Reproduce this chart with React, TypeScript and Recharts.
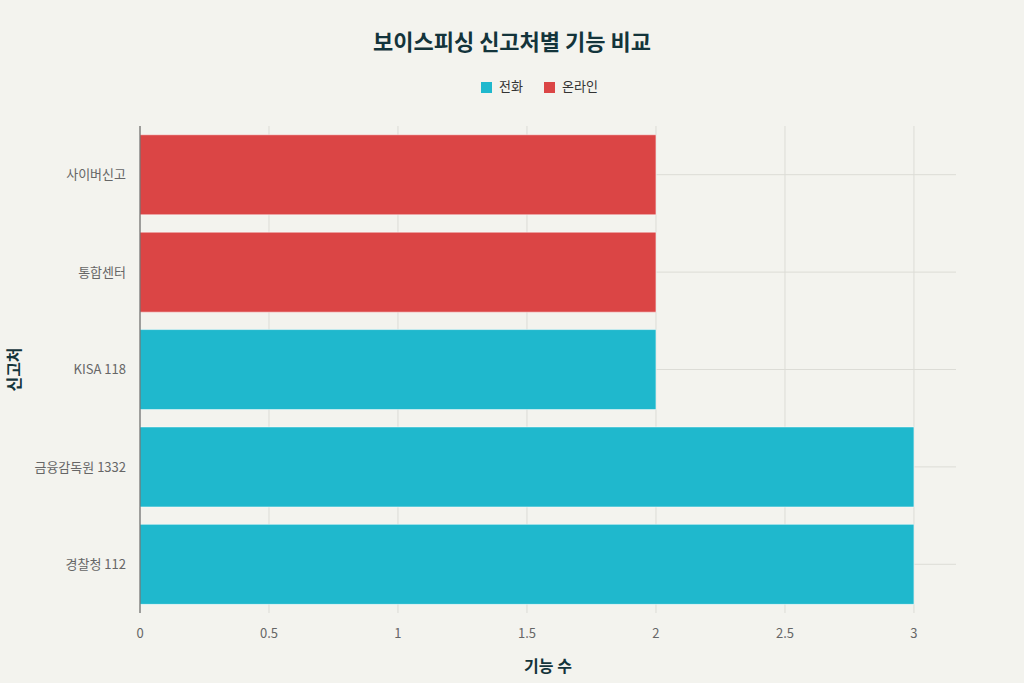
import { BarChart, Bar, XAxis, YAxis, CartesianGrid, Legend, Label } from 'recharts';

const categories = ['사이버신고', '통합센터', 'KISA 118', '금융감독원 1332', '경찰청 112'];
const phoneValues = [0, 0, 2, 3, 3];
const onlineValues = [2, 2, 0, 0, 0];
const xTicks = [0, 0.5, 1, 1.5, 2, 2.5, 3];
const X_MAX = 3.163;

const chartData = categories.map((name, i) => ({
  name,
  phone: phoneValues[i],
  online: onlineValues[i],
}));

const FONT = '"Noto Sans CJK KR", "Noto Sans", sans-serif';
const legendOrder = ['전화', '온라인'];

export default function App() {
  return (
    <div
      style={{
        position: 'absolute',
        left: 0,
        top: 0,
        width: 1024,
        height: 683,
        background: '#f3f3ee',
        fontFamily: FONT,
      }}
    >
      <div
        style={{
          position: 'absolute',
          top: 24,
          width: 1024,
          textAlign: 'center',
          fontSize: 22,
          fontWeight: 700,
          color: '#13343b',
        }}
      >
        보이스피싱 신고처별 기능 비교
      </div>
      <BarChart
        width={1024}
        height={683}
        data={chartData}
        layout="vertical"
        margin={{ top: 107, right: 68, bottom: 0, left: 20 }}
        barCategoryGap="9%"
        style={{ fontFamily: FONT }}
      >
        <CartesianGrid
          stroke="#dcdcd6"
          strokeWidth={1}
          horizontalCoordinatesGenerator={({ offset }) =>
            categories.map((_, i) => offset.top + (offset.height * (i + 0.5)) / categories.length)
          }
          verticalCoordinatesGenerator={({ offset }) =>
            xTicks.map((t) => offset.left + (offset.width * t) / X_MAX)
          }
        />
        <XAxis
          type="number"
          domain={[0, X_MAX]}
          ticks={xTicks}
          axisLine={false}
          tickLine={false}
          tickMargin={10}
          tick={{ fontSize: 13, fill: '#666' }}
          height={70}
        >
          <Label
            value="기능 수"
            position="insideBottom"
            offset={11}
            style={{ fontSize: 16, fontWeight: 700, fill: '#13343b' }}
          />
        </XAxis>
        <YAxis
          type="category"
          dataKey="name"
          width={120}
          axisLine={{ stroke: '#555', strokeWidth: 1 }}
          tickLine={false}
          tickMargin={8}
          tick={{ fontSize: 13, fill: '#666' }}
        >
          <Label
            value="신고처"
            angle={-90}
            position="insideLeft"
            offset={-6}
            style={{ fontSize: 16, fontWeight: 700, fill: '#13343b', textAnchor: 'middle' }}
          />
        </YAxis>
        <Legend
          verticalAlign="top"
          iconType="square"
          iconSize={11}
          itemSorter={(item: any) => legendOrder.indexOf(item.value)}
          wrapperStyle={{ top: 76, left: 88, width: 924, fontSize: 13 }}
          formatter={(value) => <span style={{ color: '#333', marginLeft: 3, marginRight: 11 }}>{value}</span>}
        />
        <Bar
          dataKey="phone"
          name="전화"
          stackId="a"
          fill="#1fb8cd"
          stroke="#ffffff"
          strokeOpacity={0.5}
          isAnimationActive={false}
        />
        <Bar
          dataKey="online"
          name="온라인"
          stackId="a"
          fill="#db4545"
          stroke="#ffffff"
          strokeOpacity={0.5}
          isAnimationActive={false}
        />
      </BarChart>
    </div>
  );
}
